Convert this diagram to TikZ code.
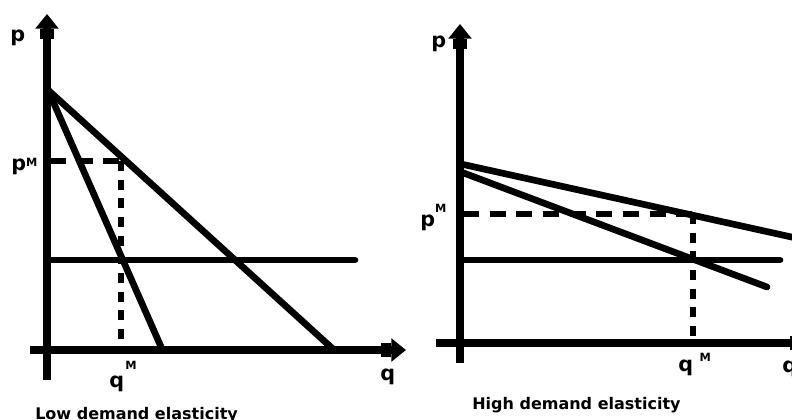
\documentclass[tikz,border=0pt]{standalone}
\usepackage{fontspec}
\setmainfont{DejaVu Sans}
\usetikzlibrary{arrows.meta}

\newcommand{\supM}[1]{\raisebox{#1}{\fontsize{8.5}{8.5}\selectfont\bfseries M}}

\begin{document}
\begin{tikzpicture}[
    x=0.75pt, y=-0.75pt,
    axis/.style={line width=5.5pt,
        -{Rectangle[length=8pt,width=10pt]Triangle[length=11pt,width=17pt]}},
    curve/.style={line width=5pt, line cap=round},
    guideh/.style={line width=5pt, dash pattern=on 12pt off 8pt},
    guidev/.style={line width=5pt, dash pattern=on 7.5pt off 6.5pt},
    lbl/.style={inner sep=0pt, anchor=base west, font=\fontsize{15.5}{15.5}\selectfont\bfseries},
    caption/.style={inner sep=0pt, anchor=base west, font=\fontsize{12}{12}\selectfont\bfseries}
]
    \useasboundingbox (0,0) rectangle (792,419);

    % low elasticity panel
    \coordinate (Lybot) at (47,380);
    \coordinate (Lytop) at (47,14);
    \coordinate (Lxl)   at (30,350);
    \coordinate (Lxr)   at (406,350);
    \coordinate (Ltop)  at (48,90);
    \coordinate (Lsteep) at (162,349);
    \coordinate (Lflat)  at (333,349);
    \coordinate (Lmc0)  at (48,260);
    \coordinate (Lmc1)  at (355,260);
    \coordinate (Lpm)   at (50,161);
    \coordinate (LM)    at (121,161);
    \coordinate (Lqm)   at (121,350);

    \draw[axis] (Lybot) -- (Lytop);
    \draw[axis] (Lxl) -- (Lxr);
    \draw[curve] (Ltop) -- (Lsteep);
    \draw[curve] (Ltop) -- (Lflat);
    \draw[curve] (Lmc0) -- (Lmc1);
    \draw[guideh] (Lpm) -- (LM);
    \draw[guidev] (LM) -- (Lqm);

    \node[lbl] (Lp)  at (10,41)  {p};
    \node[lbl] (LpM) at (11,170) {p\supM{3pt}};
    \node[lbl] (LqM) at (109,387) {q\hspace{1pt}\supM{13pt}};
    \node[lbl] (Lq)  at (380,380) {q};
    \node[caption] (Lcap) at (35,419) {Low demand elasticity};

    % high elasticity panel
    \coordinate (Hybot) at (460,363);
    \coordinate (Hytop) at (460,24);
    \coordinate (Hxl)   at (436,343);
    \coordinate (Hxr)   at (815,343);
    \coordinate (Htop1) at (461,164);
    \coordinate (Hend1) at (805,240);
    \coordinate (Htop2) at (461,172);
    \coordinate (Hend2) at (767,287);
    \coordinate (Hmc0)  at (461,260);
    \coordinate (Hmc1)  at (780,260);
    \coordinate (Hpm)   at (463,214);
    \coordinate (HM)    at (693,214);
    \coordinate (Hqm)   at (693,343);

    \draw[axis] (Hybot) -- (Hytop);
    \draw[axis] (Hxl) -- (Hxr);
    \draw[curve] (Htop1) -- (Hend1);
    \draw[curve] (Htop2) -- (Hend2);
    \draw[curve] (Hmc0) -- (Hmc1);
    \draw[guideh] (Hpm) -- (HM);
    \draw[guidev] (HM) -- (Hqm);

    \node[lbl] (Hp)  at (431,47)  {p};
    \node[lbl] (HpM) at (420,226) {p\supM{10pt}};
    \node[lbl] (HqM) at (678,371) {q\hspace{5pt}\supM{7pt}};
    \node[lbl] (Hq)  at (782,372) {q};
    \node[caption] (Hcap) at (472,409) {High demand elasticity};
\end{tikzpicture}
\end{document}
